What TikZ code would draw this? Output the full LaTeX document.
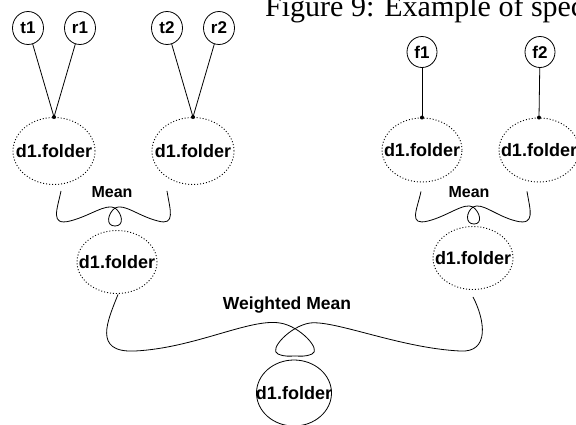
\documentclass[tikz,border=0pt]{standalone}
\usepackage{fontspec}
\setmainfont{Liberation Sans}
\newfontfamily\capfont{Liberation Serif}
\usetikzlibrary{shapes.geometric,calc}
\begin{document}
\begin{tikzpicture}[x=1pt,y=-1pt,
  every node/.style={font=\bfseries\fontsize{18}{20}\selectfont},
  leaf/.style={draw, ellipse, minimum width=31, minimum height=33, inner sep=0pt, line width=0.8pt, font=\bfseries\fontsize{17}{19}\selectfont},
  folder/.style={draw, ellipse, dash pattern=on 1pt off 2pt, line width=0.9pt, minimum width=80, minimum height=64, inner sep=0pt},
  result/.style={draw, ellipse, line width=0.8pt, minimum width=75, minimum height=66, inner sep=0pt},
  link/.style={line width=0.8pt},
  op/.style={font=\bfseries\fontsize{16}{18}\selectfont},
]
\useasboundingbox (0,0) rectangle (576,424);

\node[font=\capfont\fontsize{30}{31}\selectfont, anchor=base west, inner sep=0pt] (cap) at (265,16) {Figure 9: Example of spec};

\node[leaf] (t1) at (28,28) {t1};
\node[leaf] (r1) at (80,28) {r1};
\node[leaf] (t2) at (167,28) {t2};
\node[leaf] (r2) at (219,28) {r2};
\node[leaf, minimum width=30, minimum height=31] (f1) at (422,52) {f1};
\node[leaf, minimum width=30, minimum height=31] (f2) at (540,52) {f2};

\node[folder, minimum width=82, minimum height=67] (A) at (54,151) {\makebox[0pt]{d1.folder}};
\node[folder, minimum width=82, minimum height=67] (B) at (193,151) {\makebox[0pt]{d1.folder}};
\node[folder] (F1) at (422,150) {\makebox[0pt]{d1.folder}};
\node[folder] (F2) at (539,150) {\makebox[0pt]{d1.folder}};
\node[folder, minimum height=63] (C) at (117,262) {\makebox[0pt]{d1.folder}};
\node[folder, minimum height=63] (D) at (473,258) {\makebox[0pt]{d1.folder}};
\node[result] (E) at (294,393) {\makebox[0pt]{d1.folder}};

\node[op] (m1) at (112,192) {Mean};
\node[op] (m2) at (469,192) {Mean};
\node[font=\bfseries\fontsize{17.5}{19}\selectfont] (wm) at (287,305) {Weighted Mean};

% leaf connectors
\draw[link] (t1) -- (A.north);
\draw[link] (r1) -- (A.north);
\draw[link] (t2) -- (B.north);
\draw[link] (r2) -- (B.north);
\draw[link] (f1) -- (F1.north);
\draw[link] (f2) -- (F2.north);
\fill (A.north) circle (2pt);
\fill (B.north) circle (2pt);
\fill (F1.north) circle (2pt);
\fill (F2.north) circle (2pt);

% Mean (left)
\draw[link] ($(A.south)+(7,6)$) .. controls (57,210) and (50,226) .. (70,221)
  .. controls (90,216) and (106,203) .. (115,208)
  .. controls (122,213) and (125,226) .. (115,226);
\draw[link] ($(B.south)+(-26,6)$) .. controls (170,210) and (176,226) .. (158,221)
  .. controls (138,216) and (124,203) .. (115,208)
  .. controls (108,213) and (105,226) .. (115,226);

% Mean (right)
\draw[link] ($(F1.south)+(-1,9)$) .. controls (417,210) and (408,226) .. (428,221)
  .. controls (448,216) and (464,202) .. (473,207)
  .. controls (480,212) and (483,224) .. (474,224);
\draw[link] ($(F2.south)+(-12,9)$) .. controls (530,210) and (536,226) .. (516,221)
  .. controls (496,216) and (482,202) .. (473,207)
  .. controls (466,212) and (465,224) .. (474,224);

% Weighted Mean
\draw[link] ($(C.south)+(1,0.5)$) .. controls (108,320) and (92,353) .. (135,351)
  .. controls (195,348) and (250,318) .. (280,323)
  .. controls (300,326) and (322,350) .. (312,354)
  .. controls (305,357) and (300,356) .. (295,356);
\draw[link] ($(D.south)+(0,7)$) .. controls (485,320) and (490,353) .. (460,351)
  .. controls (400,348) and (335,320) .. (310,323)
  .. controls (290,326) and (268,350) .. (278,354)
  .. controls (285,357) and (290,356) .. (295,356);
\end{tikzpicture}
\end{document}
